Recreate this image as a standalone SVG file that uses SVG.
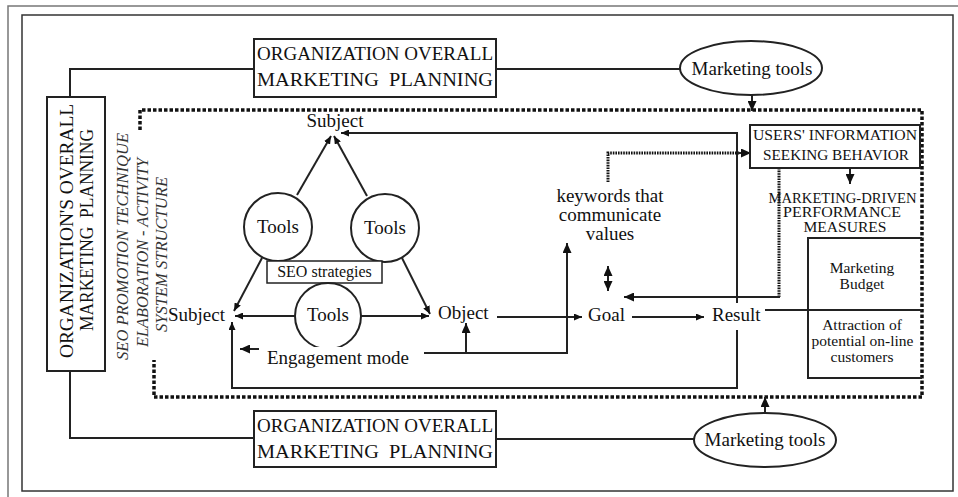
<svg xmlns="http://www.w3.org/2000/svg" width="958" height="497" viewBox="0 0 958 497" font-family="'Liberation Serif', 'DejaVu Serif', serif">
<defs>
<marker id="ah" markerUnits="userSpaceOnUse" markerWidth="11" markerHeight="9" refX="10" refY="4.5" orient="auto-start-reverse"><path d="M0,0 L10,4.5 L0,9 z" fill="#111"/></marker>
<marker id="ahs" markerUnits="userSpaceOnUse" markerWidth="9" markerHeight="7" refX="8" refY="3.5" orient="auto-start-reverse"><path d="M0,0 L8,3.5 L0,7 z" fill="#111"/></marker>
<style>
text{font-family:'Liberation Serif','DejaVu Serif',serif}
.t{fill:#111}
.c{text-anchor:middle}
.box{fill:#fff;stroke:#222;stroke-width:2}
.ln{fill:none;stroke:#222;stroke-width:2}
.dot{fill:none;stroke:#111;stroke-width:3.5;stroke-dasharray:3.5 2}
.fine{fill:none;stroke:#111;stroke-width:3;stroke-dasharray:1.6 1}
.it{font-style:italic;fill:#333;font-size:16px}
</style>
</defs>
<rect width="958" height="497" fill="#fff"/>
<path d="M8,497 V6 H958" fill="none" stroke="#777" stroke-width="1.5"/>
<rect x="22" y="15" width="931" height="476" fill="none" stroke="#333" stroke-width="1.5"/>

<g id="connectors">
<path class="dot" d="M140,130 V110 H922 V397 H154 V360"/>
<path class="ln" d="M254,69 H70 V97"/>
<path class="ln" d="M70,371 V438 H254"/>
<path class="ln" d="M496,69 H680"/>
<path class="ln" d="M496,439 H694"/>
<path class="ln" d="M752,95 V111" marker-end="url(#ah)"/>
<path class="ln" d="M765,413 V397" marker-end="url(#ah)"/>
<path class="ln" d="M737,303 V133 H341" marker-end="url(#ahs)"/>
<path class="ln" d="M737,330 V388 H232 V322" marker-end="url(#ahs)"/>
<path class="ln" d="M297,195 L331,136" marker-end="url(#ahs)"/>
<path class="ln" d="M367,196 L334,136" marker-end="url(#ahs)"/>
<path class="ln" d="M262,258 L234,311" marker-end="url(#ahs)"/>
<path class="ln" d="M402,258 L430,314" marker-end="url(#ahs)"/>
<path class="ln" d="M295,316 H235" marker-end="url(#ahs)"/>
<path class="ln" d="M361,316 H429" marker-end="url(#ahs)"/>
<path class="ln" d="M259,349 H240" marker-end="url(#ah)"/>
<path class="ln" stroke-width="2.5" d="M466,353 V323" marker-end="url(#ah)"/>
<path class="ln" d="M424,353 H567 V243" marker-end="url(#ah)"/>
<path class="ln" d="M497,317 H582" marker-end="url(#ahs)"/>
<path class="ln" d="M632,317 H704" marker-end="url(#ahs)"/>
<path class="ln" d="M765,310 H922"/>
<path class="ln" stroke-width="2.5" d="M608,266 V291" marker-start="url(#ah)" marker-end="url(#ah)"/>
<path class="fine" d="M608,182 V153 H740"/>
<path class="ln" d="M738,153 H751" marker-end="url(#ah)"/>
<path class="fine" d="M779,168 V297"/>
<path class="ln" stroke-width="2.5" d="M780,297 H624" marker-end="url(#ah)"/>
<path class="ln" stroke-width="2.5" d="M850,168 V184" marker-end="url(#ah)"/>
</g>

<g id="top-planning">
<rect class="box" x="254" y="39" width="242" height="58"/>
<text class="t c" x="375" y="60" font-size="19" textLength="236" lengthAdjust="spacingAndGlyphs">ORGANIZATION OVERALL</text>
<text class="t c" x="375" y="86" font-size="19" textLength="236" lengthAdjust="spacingAndGlyphs" xml:space="preserve">MARKETING  PLANNING</text>
</g>

<g id="bottom-planning">
<rect class="box" x="254" y="411" width="242" height="56"/>
<text class="t c" x="375" y="432" font-size="19" textLength="236" lengthAdjust="spacingAndGlyphs">ORGANIZATION OVERALL</text>
<text class="t c" x="375" y="458" font-size="19" textLength="236" lengthAdjust="spacingAndGlyphs" xml:space="preserve">MARKETING  PLANNING</text>
</g>

<g id="left-planning">
<rect class="box" x="47" y="97" width="58" height="274"/>
<text class="t c" transform="translate(73,231) rotate(-90)" font-size="19" textLength="254" lengthAdjust="spacingAndGlyphs">ORGANIZATION'S OVERALL</text>
<text class="t c" transform="translate(93,230) rotate(-90)" font-size="19" textLength="202" lengthAdjust="spacingAndGlyphs" xml:space="preserve">MARKETING  PLANNING</text>
</g>

<g id="technique-label">
<text class="it" transform="translate(128,360) rotate(-90)" textLength="227" lengthAdjust="spacingAndGlyphs">SEO PROMOTION TECHNIQUE</text>
<text class="it" transform="translate(148,347) rotate(-90)" textLength="189" lengthAdjust="spacingAndGlyphs">ELABORATION - ACTIVITY</text>
<text class="it" transform="translate(167,332) rotate(-90)" textLength="155" lengthAdjust="spacingAndGlyphs">SYSTEM STRUCTURE</text>
</g>

<g id="marketing-tools-top">
<ellipse cx="751" cy="68" rx="71" ry="27" fill="#fff" stroke="#222" stroke-width="2"/>
<text class="t c" x="752" y="75" font-size="19">Marketing tools</text>
</g>

<g id="marketing-tools-bottom">
<ellipse cx="765" cy="440" rx="71" ry="27" fill="#fff" stroke="#222" stroke-width="2"/>
<text class="t c" x="765" y="446" font-size="19">Marketing tools</text>
</g>

<g id="subject-top">
<text class="t c" x="335" y="127" font-size="19">Subject</text>
</g>

<g id="tools-left">
<circle cx="278" cy="227" r="34" fill="#fff" stroke="#222" stroke-width="2"/>
<text class="t c" x="278" y="233" font-size="19">Tools</text>
</g>

<g id="tools-right">
<circle cx="385" cy="228" r="34" fill="#fff" stroke="#222" stroke-width="2"/>
<text class="t c" x="385" y="234" font-size="19">Tools</text>
</g>

<g id="seo-strategies">
<rect x="267" y="261" width="115" height="22" fill="#fff" stroke="#222" stroke-width="1.5"/>
<text class="t c" x="324.5" y="277" font-size="16">SEO strategies</text>
</g>

<g id="tools-bottom">
<circle cx="328" cy="316" r="33" fill="#fff" stroke="#222" stroke-width="2"/>
<text class="t c" x="328" y="321" font-size="19">Tools</text>
</g>

<g id="subject-left">
<text class="t" x="168" y="321" font-size="19">Subject</text>
</g>

<g id="engagement-mode">
<rect x="262" y="347" width="150" height="22" fill="#fff"/>
<text class="t" x="267" y="364" font-size="19">Engagement mode</text>
</g>

<g id="object">
<text class="t" x="438" y="319" font-size="19">Object</text>
</g>

<g id="goal">
<text class="t" x="588" y="321" font-size="19">Goal</text>
</g>

<g id="result">
<text class="t" x="712" y="321" font-size="19">Result</text>
</g>

<g id="keywords">
<text class="t c" x="610" y="202" font-size="19">keywords that</text>
<text class="t c" x="610" y="221" font-size="19">communicate</text>
<text class="t c" x="610" y="240" font-size="19">values</text>
</g>

<g id="users-behavior">
<rect x="750" y="125" width="170" height="43" fill="#fff" stroke="#222" stroke-width="2"/>
<text class="t c" x="835" y="140" font-size="15" fill="#333" textLength="164" lengthAdjust="spacingAndGlyphs">USERS' INFORMATION</text>
<text class="t c" x="836" y="160" font-size="15" fill="#333" textLength="146" lengthAdjust="spacingAndGlyphs">SEEKING BEHAVIOR</text>
</g>

<g id="performance-measures">
<text class="t c" x="842.5" y="203" font-size="14" fill="#333" textLength="148" lengthAdjust="spacingAndGlyphs">MARKETING-DRIVEN</text>
<text class="t c" x="842" y="217" font-size="14" fill="#333" textLength="118" lengthAdjust="spacingAndGlyphs">PERFORMANCE</text>
<text class="t c" x="845" y="232" font-size="14" fill="#333" textLength="83" lengthAdjust="spacingAndGlyphs">MEASURES</text>
</g>

<g id="budget">
<path class="ln" d="M922,238 H808 V378 H922"/>
<text class="t c" x="862" y="273" font-size="15.5" fill="#333">Marketing</text>
<text class="t c" x="862" y="289" font-size="15.5" fill="#333">Budget</text>
<text class="t c" x="862" y="330" font-size="15.5" fill="#333">Attraction of</text>
<text class="t c" x="862.5" y="346" font-size="15.5" fill="#333">potential on-line</text>
<text class="t c" x="862" y="362" font-size="15.5" fill="#333">customers</text>
</g>
</svg>
